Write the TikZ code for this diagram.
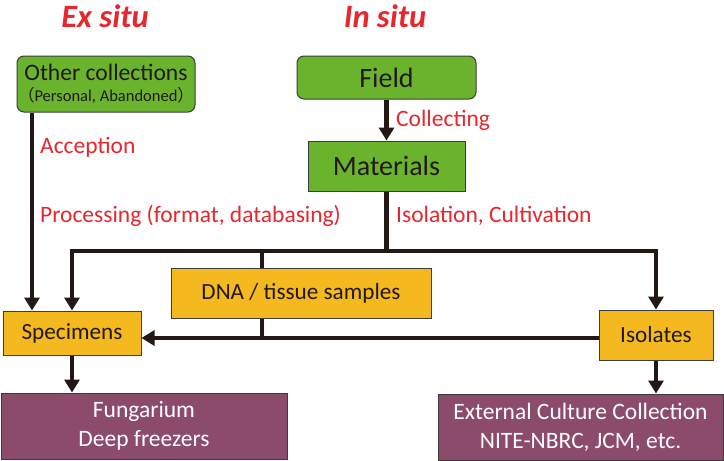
\documentclass[tikz,border=0pt]{standalone}
\usepackage{fontspec}
\setmainfont{Carlito}
\newfontfamily\cjk{Noto Sans CJK JP}
\usetikzlibrary{arrows.meta}
\definecolor{boxgreen}{HTML}{6AB42D}
\definecolor{boxyellow}{HTML}{F3B91E}
\definecolor{boxpurple}{HTML}{8D4B6B}
\definecolor{lblred}{HTML}{E8262D}
\definecolor{ink}{HTML}{231815}
\definecolor{edge}{HTML}{3C3C3C}
\tikzset{
  basebox/.style={draw=edge, line width=1pt, inner sep=0pt, align=center, text=ink},
  greenbox/.style={basebox, fill=boxgreen},
  yellowbox/.style={basebox, fill=boxyellow},
  purplebox/.style={basebox, fill=boxpurple, text=white, font=\fontsize{23.5}{29}\selectfont},
  lbl/.style={text=lblred, anchor=west, inner sep=0pt, font=\fontsize{23.5}{27}\selectfont},
  ttl/.style={text=lblred, font=\fontsize{32.5}{36}\selectfont\bfseries\itshape},
  conn/.style={draw=ink, line width=4.5pt, line join=miter},
  arr/.style={conn, -{Triangle[width=15pt,length=13pt]}},
}
\begin{document}
\begin{tikzpicture}[x=1pt,y=-1pt]
\useasboundingbox (0,0) rectangle (724,461);
% titles
\node[ttl] (exs) at (105,16) {Ex situ};
\node[ttl] (ins) at (385,16) {In situ};
% boxes
\node[greenbox, rounded corners=7pt, minimum width=178pt, minimum height=56pt] (oc) at (106,84)
  {\fontsize{23.6}{26}\selectfont Other collections\\[5pt]\fontsize{16.5}{18}\selectfont{\cjk （}Personal, Abandoned{\cjk ）}};
\node[greenbox, rounded corners=7pt, minimum width=179pt, minimum height=43pt, font=\fontsize{28}{30}\selectfont] (field) at (386.5,77.5) {Field};
\node[greenbox, minimum width=157pt, minimum height=50pt, font=\fontsize{28}{30}\selectfont] (mat) at (386.5,166) {Materials};
\node[yellowbox, minimum width=260pt, minimum height=50pt, font=\fontsize{23.2}{26}\selectfont] (dna) at (301,293) {DNA / tissue samples};
\node[yellowbox, minimum width=138pt, minimum height=44pt, font=\fontsize{23.2}{26}\selectfont] (spec) at (72,333) {Specimens};
\node[yellowbox, minimum width=114pt, minimum height=50pt, font=\fontsize{23.2}{26}\selectfont] (isol) at (656,335) {Isolates};
\node[purplebox, minimum width=286pt, minimum height=66pt] (fung) at (144,426) {Fungarium\\Deep freezers};
\node[purplebox, minimum width=285pt, minimum height=66pt] (ext) at (580.5,427) {External Culture Collection\\NITE-NBRC, JCM, etc.};
% helper coordinates
\coordinate (ax) at (32,0);
\coordinate (hy) at (0,251);
\coordinate (dx) at (262,0);
\coordinate (hy2) at (0,338);
% connectors
\draw[arr] (ax |- oc.south) -- (ax |- spec.north);
\draw[arr] (field.south) -- (mat.north);
\draw[arr] (mat.south) -- (mat.south |- hy) -| (spec.north);
\draw[arr] (mat.south |- hy) -| (isol.north);
\draw[conn] (dx |- hy) -- (dx |- dna.north);
\draw[conn] (dx |- dna.south) -- (dx |- hy2);
\draw[arr] (isol.west |- hy2) -- (spec.east |- hy2);
\draw[arr] (spec.south) -- (spec.south |- fung.north);
\draw[arr] (isol.south) -- (isol.south |- ext.north);
% labels
\node[lbl] (lcol) at (396,120) {Collecting};
\node[lbl] (lacc) at (40,147) {Acception};
\node[lbl] (lproc) at (40,216) {Processing (format, databasing)};
\node[lbl] (liso) at (396,216) {Isolation, Cultivation};
\end{tikzpicture}
\end{document}
